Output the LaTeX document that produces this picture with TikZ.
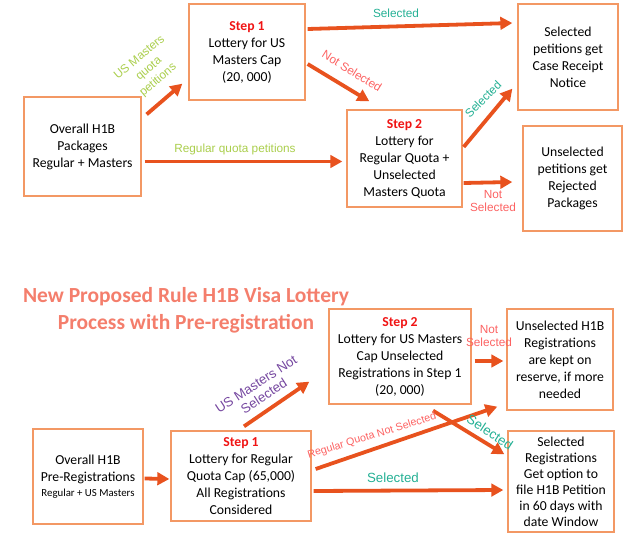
\documentclass[tikz,border=0pt]{standalone}
\usepackage{fontspec}
\setmainfont{Carlito}
\newfontfamily\arialish{Liberation Sans}
\usetikzlibrary{arrows.meta}

\definecolor{boxorange}{RGB}{243,152,100}
\definecolor{arrowred}{RGB}{232,82,30}
\definecolor{steptext}{RGB}{240,20,20}
\definecolor{quotagreen}{RGB}{170,206,76}
\definecolor{selteal}{RGB}{36,176,148}
\definecolor{notpink}{RGB}{252,98,98}
\definecolor{mastpurple}{RGB}{118,72,160}
\definecolor{titlesalmon}{RGB}{244,126,108}

\newcommand\stephead[1]{{\color{steptext}\bfseries #1}}

\begin{document}
\begin{tikzpicture}[x=1pt, y=-1pt,
			box/.style={draw=boxorange, line width=1.3pt, inner sep=2pt, align=center, font=\fontsize{13.7}{17}\selectfont},
			flow/.style={draw=arrowred, line width=3.8pt, -{Triangle[length=12pt, width=12.5pt]}},
			lbl/.style={inner sep=0pt, align=center, font=\arialish\fontsize{11.8}{13.5}\selectfont},
			biglbl/.style={lbl, font=\arialish\fontsize{13.3}{14.5}\selectfont}
		]
		\useasboundingbox (0,0) rectangle (624,535);

		\node[box, minimum width=117pt, minimum height=99pt] (pack) at (82.5,146.5) {Overall H1B\\Packages\\Regular + Masters};
		\node[box, minimum width=116pt, minimum height=96pt] (lot1) at (247,52) {\stephead{Step 1}\\Lottery for US\\Masters Cap\\(20, 000)};
		\node[box, minimum width=115pt, minimum height=97pt] (lot2) at (404.5,158.5) {\stephead{Step 2}\\Lottery for\\Regular Quota +\\Unselected\\Masters Quota};
		\node[box, minimum width=100pt, minimum height=106pt] (rcpt) at (568,57) {Selected\\petitions get\\Case Receipt\\Notice};
		\node[box, minimum width=99pt, minimum height=105pt] (rej) at (572.5,178.5) {Unselected\\petitions get\\Rejected\\Packages};

		\draw[flow] ([shift={(5,18)}]pack.north east) -- ([shift={(-6,-17)}]lot1.south west);
		\draw[flow] ([shift={(3,15)}]pack.east) -- ([shift={(-4,3)}]lot2.west);
		\draw[flow] ([shift={(2,-23)}]lot1.east) -- ([shift={(-5,-34)}]rcpt.west);
		\draw[flow] ([shift={(2,12)}]lot1.east) -- ([shift={(23,-8)}]lot2.north west);
		\draw[flow] ([shift={(1,-11.5)}]lot2.east) -- ([shift={(-5,-22)}]rcpt.south west);
		\draw[flow] ([shift={(1,24.5)}]lot2.east) -- ([shift={(-10,3.5)}]rej.west);

		\node[lbl, text=quotagreen, rotate=40, font=\arialish\fontsize{11.8}{14.5}\selectfont] (lq) at (149,69) {US Masters\\quota\\petitions};
		\node[lbl, text=quotagreen] (lr) at (235,149) {Regular quota petitions};
		\node[lbl, text=selteal] (ls1) at (396,13) {Selected};
		\node[lbl, text=notpink, rotate=-32] (ln1) at (352,71) {Not Selected};
		\node[lbl, text=selteal, rotate=45] (ls2) at (483,99) {Selected};
		\node[lbl, text=notpink] (ln2) at (493,201) {Not\\Selected};

		\node[align=center, text=titlesalmon, font=\bfseries\fontsize{21.5}{27}\selectfont] (title) at (186,310) {New Proposed Rule H1B Visa Lottery\\Process with Pre-registration};

		\node[box, minimum width=110pt, minimum height=95pt] (prereg) at (88,476.5) {Overall H1B\\Pre-Registrations\\[-2pt]{\fontsize{10.8}{14}\selectfont Regular + US Masters}};
		\node[box, minimum width=140pt, minimum height=90pt] (reg1) at (241,476) {\stephead{Step 1}\\Lottery for Regular\\Quota Cap (65,000)\\All Registrations\\Considered};
		\node[box, minimum width=142pt, minimum height=95pt] (mast2) at (400,356.5) {\stephead{Step 2}\\Lottery for US Masters\\Cap Unselected\\Registrations in Step 1\\(20, 000)};
		\node[box, minimum width=106pt, minimum height=101pt] (resv) at (560,359.5) {Unselected H1B\\Registrations\\are kept on\\reserve, if more\\needed};
		\node[box, minimum width=106pt, minimum height=101pt, font=\fontsize{13.7}{16}\selectfont] (petn) at (561,481.5) {Selected\\Registrations\\Get option to\\file H1B Petition\\in 60 days with\\date Window};

		\draw[flow] ([shift={(1,2)}]prereg.east) -- ([shift={(-1,3)}]reg1.west);
		\draw[flow] ([shift={(3,-4)}]reg1.north) -- ([shift={(-19,-23)}]mast2.south west);
		\draw[flow] ([shift={(4,-7)}]reg1.east) -- ([shift={(-9,-4)}]resv.south west);
		\draw[flow] ([shift={(2,15)}]reg1.east) -- ([shift={(-4,8.5)}]petn.west);
		\draw[flow] ([shift={(3,4.5)}]mast2.east) -- ([shift={(-3,1.5)}]resv.west);
		\draw[flow] ([shift={(33,6)}]mast2.south) -- ([shift={(-3,24)}]petn.north west);

		\node[biglbl, text=mastpurple, rotate=33] (lm) at (260,390) {US Masters Not\\Selected};
		\node[lbl, text=notpink, rotate=17, font=\arialish\fontsize{10.7}{12}\selectfont] (lrq) at (372,436) {Regular Quota Not Selected};
		\node[biglbl, text=selteal] (ls3) at (393,478) {Selected};
		\node[lbl, text=notpink] (ln3) at (489,336) {Not\\Selected};
		\node[biglbl, text=selteal, rotate=-33] (ls4) at (490,432) {Selected};
		\end{tikzpicture}
\end{document}
